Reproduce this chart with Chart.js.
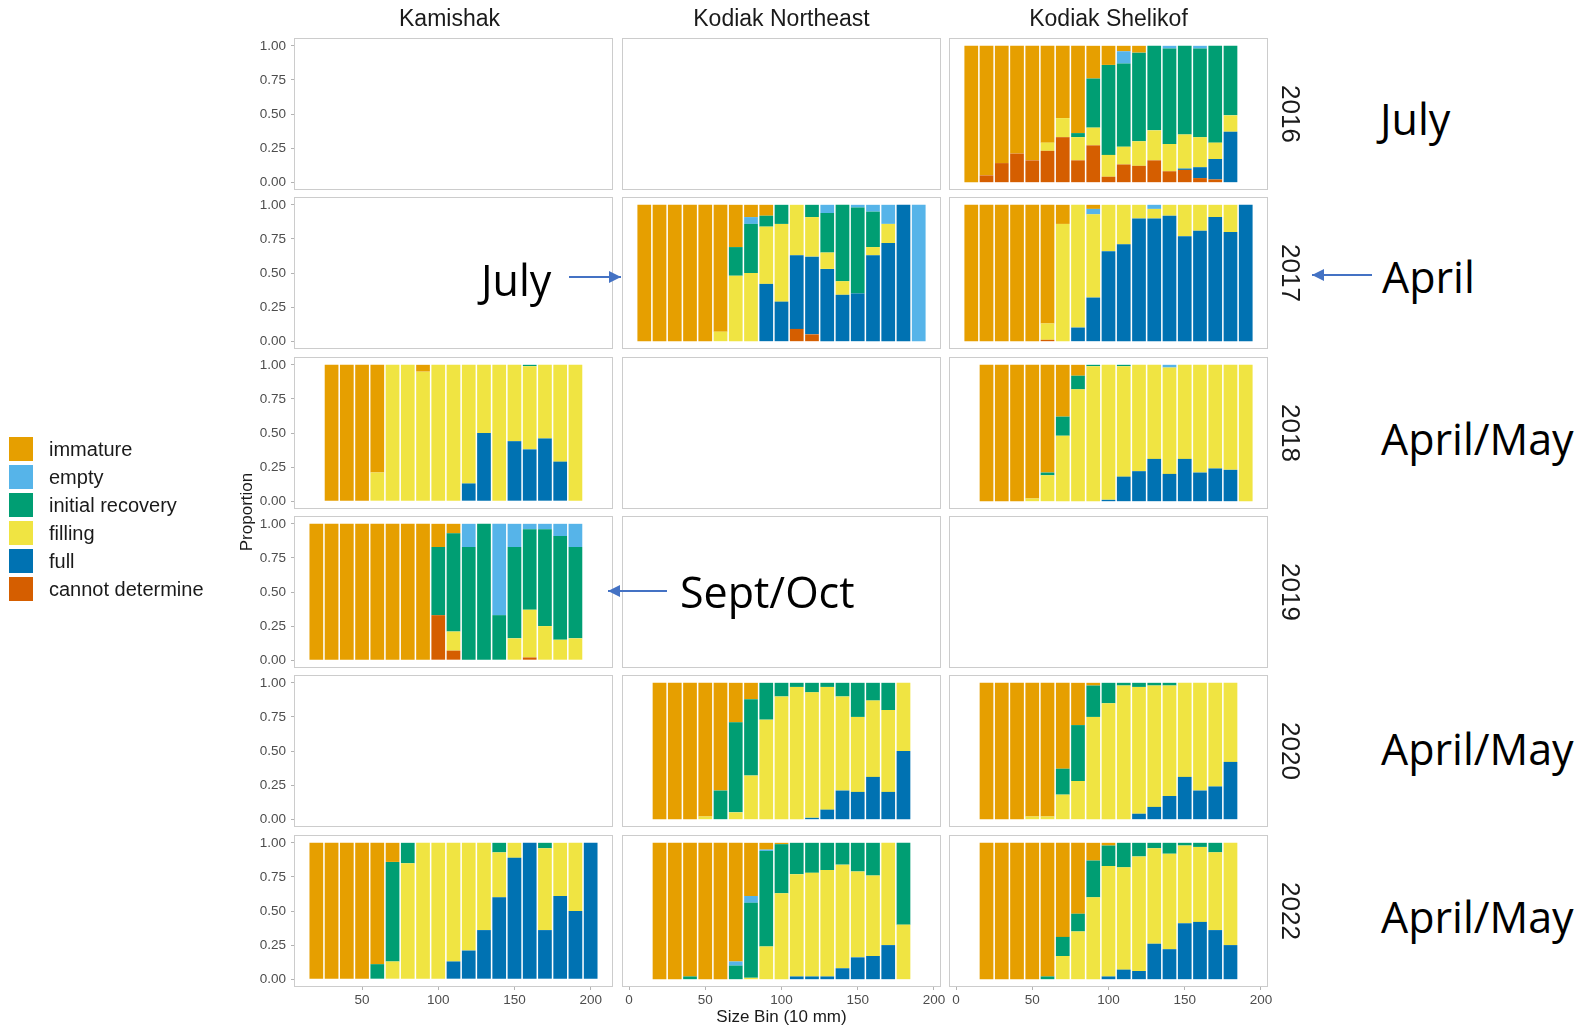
<!DOCTYPE html>
<html>
<head>
<meta charset="utf-8">
<script src="https://cdn.jsdelivr.net/npm/chart.js@4.4.0/dist/chart.umd.min.js"></script>
<style>
  body { margin: 0; background: #fff; }
  #page { position: relative; width: 1585px; height: 1027px; overflow: hidden; background: #fff;
          font-family: "Liberation Sans", Arial, sans-serif; color: #1a1a1a; }
  #page canvas { position: absolute; }
  .lbl { position: absolute; white-space: nowrap; }
  .strip-top { font-size: 23px; transform: translate(-50%, -50%); }
  .strip-right { font-size: 26px; transform: translate(-50%, -50%) rotate(90deg); }
  .axis-title { font-size: 17px; transform: translate(-50%, -50%); }
  .note { font-family: "Open Sans", sans-serif; font-size: 43px; color: #000; line-height: 1; transform: translateY(-50%); }
  .key { position: absolute; width: 24px; height: 24px; }
  .key-text { position: absolute; font-size: 20px; line-height: 24px; }
</style>
</head>
<body>
<div id="page">
  <svg width="1585" height="1027" style="position:absolute;left:0;top:0;z-index:2">
    <defs>
      <marker id="head" viewBox="0 0 10 10" refX="10" refY="5" markerWidth="6" markerHeight="6" orient="auto">
        <path d="M0,0 L10,5 L0,10 z" fill="#4472C4"/>
      </marker>
    </defs>
    <line x1="569" y1="277" x2="621" y2="277" stroke="#4472C4" stroke-width="2" marker-end="url(#head)"/>
    <line x1="1372" y1="275" x2="1312" y2="275" stroke="#4472C4" stroke-width="2" marker-end="url(#head)"/>
    <line x1="667" y1="591" x2="608" y2="591" stroke="#4472C4" stroke-width="2" marker-end="url(#head)"/>
  </svg>
</div>
<script>
// categories in legend order (top of each stack first)
const categories = ['immature', 'empty', 'initial recovery', 'filling', 'full', 'cannot determine'];
const colours = ['#E69F00', '#56B4E9', '#009E73', '#F0E442', '#0072B2', '#D55E00'];
const regions = ['Kamishak', 'Kodiak Northeast', 'Kodiak Shelikof'];
const years = ['2016', '2017', '2018', '2019', '2020', '2022'];
const yTicks = [0, 0.25, 0.5, 0.75, 1];
const kamishakXTicks = [50, 100, 150, 200];
const kodiakXTicks = [0, 50, 100, 150, 200];
const kamishakXRange = [6, 214];
const kodiakXRange = [-3.95, 203.95];

// Kodiak Shelikof 2016
const sh16Bins = [10, 20, 30, 40, 50, 60, 70, 80, 90, 100, 110, 120, 130, 140, 150, 160, 170, 180];
const sh16Immature = [1, .95, .86, .79, .84, .71, .53, .64, .24, .14, .04, .05, 0, 0, 0, 0, 0, 0];
const sh16Empty    = [0, 0, 0, 0, 0, 0, 0, 0, 0, 0, .09, 0, 0, .02, 0, .02, 0, 0];
const sh16Initial  = [0, 0, 0, 0, 0, 0, 0, .03, .36, .66, .61, .65, .62, .70, .65, .65, .71, .51];
const sh16Filling  = [0, 0, 0, 0, 0, .06, .14, .17, .13, .16, .13, .18, .22, .20, .25, .22, .12, .12];
const sh16Full     = [0, 0, 0, 0, 0, 0, 0, 0, 0, 0, 0, 0, 0, 0, .01, .08, .15, .37];
const sh16Cannot   = [0, .05, .14, .21, .16, .23, .33, .16, .27, .04, .13, .12, .16, .08, .09, .03, .02, 0];

// Kodiak Northeast 2017
const kne17Bins = [10, 20, 30, 40, 50, 60, 70, 80, 90, 100, 110, 120, 130, 140, 150, 160, 170, 180, 190];
const kne17Immature = [1, 1, 1, 1, 1, .93, .31, .09, .08, 0, 0, 0, 0, 0, 0, 0, 0, 0, 0];
const kne17Empty    = [0, 0, 0, 0, 0, 0, 0, .05, 0, 0, 0, 0, .06, 0, .02, .05, .14, 0, 1];
const kne17Initial  = [0, 0, 0, 0, 0, 0, .21, .36, .08, .14, 0, .09, .29, .56, .63, .26, 0, 0, 0];
const kne17Filling  = [0, 0, 0, 0, 0, .07, .48, .50, .42, .57, .37, .29, .12, .10, 0, .06, .14, 0, 0];
const kne17Full     = [0, 0, 0, 0, 0, 0, 0, 0, .42, .29, .54, .57, .53, .34, .35, .63, .72, 1, 0];
const kne17Cannot   = [0, 0, 0, 0, 0, 0, 0, 0, 0, 0, .09, .05, 0, 0, 0, 0, 0, 0, 0];

// Kodiak Shelikof 2017
const sh17Bins = [10, 20, 30, 40, 50, 60, 70, 80, 90, 100, 110, 120, 130, 140, 150, 160, 170, 180, 190];
const sh17Immature = [1, 1, 1, 1, 1, .87, .14, 0, .03, 0, 0, 0, 0, 0, 0, 0, 0, 0, 0];
const sh17Empty    = [0, 0, 0, 0, 0, 0, 0, 0, .04, 0, 0, 0, .03, 0, 0, 0, 0, 0, 0];
const sh17Filling  = [0, 0, 0, 0, 0, .12, .86, .90, .61, .34, .29, .10, .07, .08, .23, .19, .09, .20, 0];
const sh17Full     = [0, 0, 0, 0, 0, 0, 0, .10, .32, .66, .71, .90, .90, .92, .77, .81, .91, .80, 1];
const sh17Cannot   = [0, 0, 0, 0, 0, .01, 0, 0, 0, 0, 0, 0, 0, 0, 0, 0, 0, 0, 0];

// Kamishak 2018
const kam18Bins = [30, 40, 50, 60, 70, 80, 90, 100, 110, 120, 130, 140, 150, 160, 170, 180, 190];
const kam18Immature = [1, 1, 1, .79, 0, 0, .05, 0, 0, 0, 0, 0, 0, 0, 0, 0, 0];
const kam18Initial  = [0, 0, 0, 0, 0, 0, 0, 0, 0, 0, 0, 0, 0, .01, 0, 0, 0];
const kam18Filling  = [0, 0, 0, .21, 1, 1, .95, 1, 1, .87, .50, 1, .56, .61, .54, .71, 1];
const kam18Full     = [0, 0, 0, 0, 0, 0, 0, 0, 0, .13, .50, 0, .44, .38, .46, .29, 0];

// Kodiak Shelikof 2018
const sh18Bins = [20, 30, 40, 50, 60, 70, 80, 90, 100, 110, 120, 130, 140, 150, 160, 170, 180, 190];
const sh18Immature = [1, 1, 1, .98, .79, .38, .08, 0, 0, 0, 0, 0, 0, 0, 0, 0, 0, 0];
const sh18Empty    = [0, 0, 0, 0, 0, 0, 0, 0, 0, 0, 0, 0, .02, 0, 0, 0, 0, 0];
const sh18Initial  = [0, 0, 0, 0, .02, .14, .10, .01, 0, .01, 0, 0, 0, 0, 0, 0, 0, 0];
const sh18Filling  = [0, 0, 0, .02, .19, .48, .82, .99, .99, .81, .78, .69, .78, .69, .79, .76, .77, 1];
const sh18Full     = [0, 0, 0, 0, 0, 0, 0, 0, .01, .18, .22, .31, .20, .31, .21, .24, .23, 0];

// Kamishak 2019
const kam19Bins = [20, 30, 40, 50, 60, 70, 80, 90, 100, 110, 120, 130, 140, 150, 160, 170, 180, 190];
const kam19Immature = [1, 1, 1, 1, 1, 1, 1, 1, .17, .07, 0, 0, 0, 0, 0, 0, 0, 0];
const kam19Empty    = [0, 0, 0, 0, 0, 0, 0, 0, 0, 0, .17, 0, .67, .17, .04, .04, .09, .17];
const kam19Initial  = [0, 0, 0, 0, 0, 0, 0, 0, .50, .72, .83, 1, .33, .67, .59, .71, .76, .67];
const kam19Filling  = [0, 0, 0, 0, 0, 0, 0, 0, 0, .14, 0, 0, 0, .16, .35, .25, .15, .16];
const kam19Cannot   = [0, 0, 0, 0, 0, 0, 0, 0, .33, .07, 0, 0, 0, 0, .02, 0, 0, 0];

// Kodiak Northeast 2020
const kne20Bins = [20, 30, 40, 50, 60, 70, 80, 90, 100, 110, 120, 130, 140, 150, 160, 170, 180];
const kne20Immature = [1, 1, 1, .98, .79, .29, .12, 0, 0, 0, 0, 0, 0, 0, 0, 0, 0];
const kne20Initial  = [0, 0, 0, 0, .21, .66, .56, .27, .10, .03, .07, .03, .10, .25, .13, .20, 0];
const kne20Filling  = [0, 0, 0, .02, 0, .05, .32, .73, .90, .97, .92, .90, .69, .55, .56, .60, .50];
const kne20Full     = [0, 0, 0, 0, 0, 0, 0, 0, 0, 0, .01, .07, .21, .20, .31, .20, .50];

// Kodiak Shelikof 2020
const sh20Bins = [20, 30, 40, 50, 60, 70, 80, 90, 100, 110, 120, 130, 140, 150, 160, 170, 180];
const sh20Immature = [1, 1, 1, .98, .98, .63, .31, .02, 0, 0, 0, 0, 0, 0, 0, 0, 0];
const sh20Initial  = [0, 0, 0, 0, 0, .19, .41, .23, .15, .02, .03, .02, .02, 0, 0, 0, 0];
const sh20Filling  = [0, 0, 0, .02, .02, .18, .28, .75, .85, .98, .93, .89, .81, .69, .79, .76, .58];
const sh20Full     = [0, 0, 0, 0, 0, 0, 0, 0, 0, 0, .04, .09, .17, .31, .21, .24, .42];

// Kamishak 2022
const kam22Bins = [20, 30, 40, 50, 60, 70, 80, 90, 100, 110, 120, 130, 140, 150, 160, 170, 180, 190, 200];
const kam22Immature = [1, 1, 1, 1, .89, .14, 0, 0, 0, 0, 0, 0, 0, 0, 0, 0, 0, 0, 0];
const kam22Initial  = [0, 0, 0, 0, .11, .73, .15, 0, 0, 0, 0, 0, .07, 0, 0, .04, 0, 0, 0];
const kam22Filling  = [0, 0, 0, 0, 0, .13, .85, 1, 1, .87, .79, .64, .33, .11, 0, .60, .39, .50, 0];
const kam22Full     = [0, 0, 0, 0, 0, 0, 0, 0, 0, .13, .21, .36, .60, .89, 1, .36, .61, .50, 1];

// Kodiak Northeast 2022
const kne22Bins = [20, 30, 40, 50, 60, 70, 80, 90, 100, 110, 120, 130, 140, 150, 160, 170, 180];
const kne22Immature = [1, 1, .98, 1, 1, .87, .39, .05, .01, 0, 0, 0, 0, 0, 0, 0, 0];
const kne22Empty    = [0, 0, 0, 0, 0, .03, .05, .01, 0, 0, 0, 0, 0, 0, 0, 0, 0];
const kne22Initial  = [0, 0, .02, 0, 0, .10, .55, .70, .36, .23, .22, .20, .16, .21, .24, 0, .60];
const kne22Filling  = [0, 0, 0, 0, 0, 0, .01, .24, .63, .75, .76, .78, .76, .63, .59, .75, .40];
const kne22Full     = [0, 0, 0, 0, 0, 0, 0, 0, 0, .02, .02, .02, .08, .16, .17, .25, 0];

// Kodiak Shelikof 2022
const sh22Bins = [20, 30, 40, 50, 60, 70, 80, 90, 100, 110, 120, 130, 140, 150, 160, 170, 180];
const sh22Immature = [1, 1, 1, 1, .98, .69, .52, .13, .02, 0, 0, 0, 0, 0, 0, 0, 0];
const sh22Initial  = [0, 0, 0, 0, .02, .14, .13, .27, .15, .18, .10, .04, .08, .02, .03, .07, 0];
const sh22Filling  = [0, 0, 0, 0, 0, .17, .35, .60, .81, .75, .84, .70, .70, .57, .55, .57, .75];
const sh22Full     = [0, 0, 0, 0, 0, 0, 0, 0, .02, .07, .06, .26, .22, .41, .42, .36, .25];

// series lists follow the categories order; null = none in that panel
const panelData = {
  '2,0': [sh16Bins, [sh16Immature, sh16Empty, sh16Initial, sh16Filling, sh16Full, sh16Cannot]],
  '1,1': [kne17Bins, [kne17Immature, kne17Empty, kne17Initial, kne17Filling, kne17Full, kne17Cannot]],
  '2,1': [sh17Bins, [sh17Immature, sh17Empty, null, sh17Filling, sh17Full, sh17Cannot]],
  '0,2': [kam18Bins, [kam18Immature, null, kam18Initial, kam18Filling, kam18Full, null]],
  '2,2': [sh18Bins, [sh18Immature, sh18Empty, sh18Initial, sh18Filling, sh18Full, null]],
  '0,3': [kam19Bins, [kam19Immature, kam19Empty, kam19Initial, kam19Filling, null, kam19Cannot]],
  '1,4': [kne20Bins, [kne20Immature, null, kne20Initial, kne20Filling, kne20Full, null]],
  '2,4': [sh20Bins, [sh20Immature, null, sh20Initial, sh20Filling, sh20Full, null]],
  '0,5': [kam22Bins, [kam22Immature, null, kam22Initial, kam22Filling, kam22Full, null]],
  '1,5': [kne22Bins, [kne22Immature, kne22Empty, kne22Initial, kne22Filling, kne22Full, null]],
  '2,5': [sh22Bins, [sh22Immature, null, sh22Initial, sh22Filling, sh22Full, null]]
};

// layout
const colLeft = [295, 623, 950];
const rowTop = [39, 198, 358, 517, 676, 836];
const panelW = 317, panelH = 150;
const axisW = 70, axisH = 30, padTop = 14, padRight = 20;

const page = document.getElementById('page');
Chart.defaults.font.family = '"Liberation Sans", Arial, sans-serif';

const panelBorder = {
  id: 'panelBorder',
  afterDraw(chart) {
    const a = chart.chartArea;
    const c = chart.ctx;
    c.save();
    c.strokeStyle = '#cccccc';
    c.lineWidth = 1;
    c.strokeRect(Math.round(a.left) - 0.5, Math.round(a.top) - 0.5,
                 Math.round(a.right - a.left) + 1, Math.round(a.bottom - a.top) + 1);
    c.restore();
  }
};

function addLabel(text, cls, x, y) {
  const d = document.createElement('div');
  d.className = 'lbl ' + cls;
  d.textContent = text;
  d.style.left = x + 'px';
  d.style.top = y + 'px';
  page.appendChild(d);
  return d;
}

function drawPanel(col, row) {
  const showY = col === 0;
  const showX = row === years.length - 1;
  const w = axisW + panelW + padRight;
  const h = padTop + panelH + axisH;
  const cv = document.createElement('canvas');
  cv.width = w; cv.height = h;
  cv.style.width = w + 'px'; cv.style.height = h + 'px';
  cv.style.left = (colLeft[col] - axisW) + 'px';
  cv.style.top = (rowTop[row] - padTop) + 'px';
  page.appendChild(cv);

  const datasets = [];
  const spec = panelData[col + ',' + row];
  if (spec) {
    const bins = spec[0];
    // ggplot puts the first level on top, so stack from the last one up
    for (let k = categories.length - 1; k >= 0; k--) {
      const vals = spec[1][k];
      if (!vals) continue;
      datasets.push({
        label: categories[k],
        data: bins.map((b, i) => ({ x: b, y: vals[i] })),
        backgroundColor: colours[k],
        borderWidth: 0,
        barPercentage: 0.9,
        categoryPercentage: 1
      });
    }
  }

  const xTicks = col === 0 ? kamishakXTicks : kodiakXTicks;
  const xRange = col === 0 ? kamishakXRange : kodiakXRange;
  const tickGrid = { display: true, drawOnChartArea: false, drawTicks: true, tickLength: 4, color: '#b3b3b3', offset: false };
  const tickFont = { size: 13.5 };

  const xScale = {
    type: 'linear', stacked: true, offset: false,
    min: xRange[0], max: xRange[1],
    display: showX,
    grid: tickGrid, border: { display: false },
    afterBuildTicks: s => { s.ticks = xTicks.map(v => ({ value: v })); },
    ticks: { color: '#4d4d4d', font: tickFont, padding: 2, maxRotation: 0, callback: v => String(v) }
  };
  if (showX) xScale.afterFit = s => { s.height = axisH; };

  const yScale = {
    type: 'linear', stacked: true,
    min: -0.05, max: 1.05,
    display: showY,
    grid: tickGrid, border: { display: false },
    afterBuildTicks: s => { s.ticks = yTicks.map(v => ({ value: v })); },
    ticks: { color: '#4d4d4d', font: tickFont, padding: 5, callback: v => v.toFixed(2) }
  };
  if (showY) yScale.afterFit = s => { s.width = axisW; };

  new Chart(cv, {
    type: 'bar',
    data: { datasets },
    options: {
      responsive: false,
      animation: false,
      devicePixelRatio: 1,
      layout: { padding: { top: padTop, right: padRight, left: showY ? 0 : axisW, bottom: showX ? 0 : axisH } },
      plugins: { legend: { display: false }, tooltip: { enabled: false } },
      scales: { x: xScale, y: yScale }
    },
    plugins: [panelBorder]
  });
}

for (let r = 0; r < years.length; r++) {
  for (let c = 0; c < regions.length; c++) drawPanel(c, r);
}

// strips
regions.forEach((name, c) => addLabel(name, 'strip-top', colLeft[c] + panelW / 2 - (c === 0 ? 4 : 0), 18));
years.forEach((yr, r) => addLabel(yr, 'strip-right', 1290, rowTop[r] + panelH / 2));

// axis titles
const yTitle = addLabel('Proportion', 'axis-title', 247, 512);
yTitle.style.transform = 'translate(-50%, -50%) rotate(-90deg)';
addLabel('Size Bin (10 mm)', 'axis-title', 781.5, 1017);

// legend
categories.forEach((name, i) => {
  const top = 437 + i * 28;
  const k = document.createElement('div');
  k.className = 'key';
  k.style.left = '9px';
  k.style.top = top + 'px';
  k.style.background = colours[i];
  page.appendChild(k);
  const t = addLabel(name, 'key-text', 49, top);
  t.className = 'key-text';
});

// sampling month notes
addLabel('July', 'note', 1380, 118);
addLabel('April', 'note', 1382, 276);
addLabel('July', 'note', 481, 279);
addLabel('Sept/Oct', 'note', 680, 591);
addLabel('April/May', 'note', 1381, 438);
addLabel('April/May', 'note', 1381, 748);
addLabel('April/May', 'note', 1381, 916);
</script>
</body>
</html>
